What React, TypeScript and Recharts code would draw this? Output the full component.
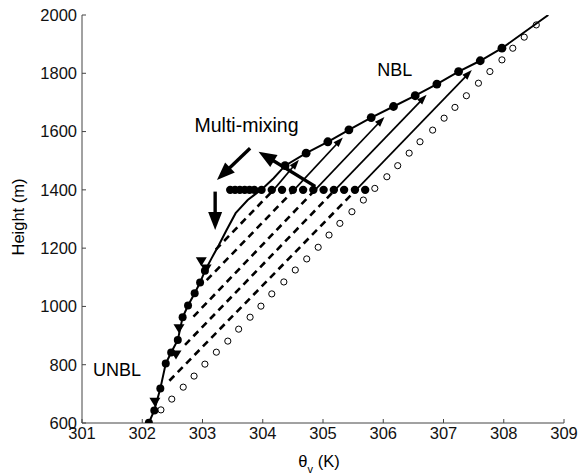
import React from "react";
import {
  ComposedChart,
  XAxis,
  YAxis,
  Scatter,
  ReferenceLine,
  ReferenceDot,
} from "recharts";

// Initial (pre-mixing) θv profile: open circles
const initialTheta = [
  302.31, 302.49, 302.68, 302.86, 303.04, 303.23, 303.42, 303.6, 303.79, 303.97,
  304.15, 304.35, 304.54, 304.73, 304.92, 305.1, 305.28, 305.48, 305.67, 305.86,
  306.06, 306.24, 306.43, 306.61, 306.82, 307.01, 307.19, 307.38, 307.58, 307.77,
  307.97, 308.15, 308.34, 308.54,
];
const initialHeight = [
  645, 682, 723, 761, 802, 843, 881, 922, 963, 1001, 1043, 1084, 1125, 1163, 1203,
  1245, 1285, 1325, 1365, 1405, 1445, 1483, 1526, 1565, 1605, 1646, 1683, 1723,
  1766, 1806, 1846, 1886, 1924, 1966,
];

// Unstable boundary layer samples (filled circles, lower part)
const unblTheta = [302.11, 302.2, 302.3, 302.39, 302.48, 302.59, 302.67, 302.76, 302.87, 302.96, 303.04];
const unblHeight = [601, 643, 718, 804, 842, 885, 963, 1003, 1045, 1082, 1122];

// Samples of the mixed layer top (row of filled circles)
const rowTheta = [
  303.46, 303.54, 303.62, 303.7, 303.78, 303.86, 303.98, 304.15, 304.32, 304.5,
  304.67, 304.84, 305.01, 305.18, 305.35, 305.53, 305.7,
];
const rowHeight = 1400;

// Neutral boundary layer samples (filled circles, upper part)
const nblTheta = [304.37, 304.72, 305.08, 305.43, 305.8, 306.17, 306.53, 306.89, 307.25, 307.61, 307.97];
const nblHeight = [1483, 1526, 1565, 1606, 1648, 1686, 1723, 1763, 1806, 1843, 1886];

// Final profile curve between the UNBL samples and the NBL samples
const bendTheta = [303.15, 303.27, 303.4, 303.55, 303.75, 304.0, 304.18];
const bendHeight = [1165, 1210, 1262, 1320, 1365, 1405, 1440];
const topTheta = 308.74;
const topHeight = 2000;

// Downward-triangle samples along the UNBL
const triTheta = [302.21, 302.56, 302.61, 302.98, 303.06];
const triHeight = [673, 835, 925, 1155, 1130];

// Mixing paths: dashed from base to the 1400 m level, then solid arrow to the NBL
const mixBaseTheta = [302.45, 302.71, 302.85, 303.07, 303.22];
const mixBaseHeight = [745, 868, 965, 1090, 1195];
const mixLevelTheta = [305.55, 305.2, 304.87, 304.52, 304.18];
const mixHeadTheta = [307.47, 306.72, 306.02, 305.33, 304.6];
const mixHeadHeight = [1811, 1726, 1650, 1580, 1503];

// Annotation arrows (tail -> tip)
const noteArrows = [
  { from: { x: 303.79, y: 1543 }, to: { x: 303.24, y: 1434 } },
  { from: { x: 303.21, y: 1394 }, to: { x: 303.21, y: 1262 } },
  { from: { x: 304.87, y: 1412 }, to: { x: 303.93, y: 1531 } },
];

const xTicks = [301, 302, 303, 304, 305, 306, 307, 308, 309];
const yTicks = [600, 800, 1000, 1200, 1400, 1600, 1800, 2000];

const FONT = '"Liberation Sans", Arial, Helvetica, sans-serif';
const INK = "#000";

const toPoints = (xs: number[], ys: number[]) => xs.map((x, i) => ({ x, y: ys[i] }));

const initialPts = toPoints(initialTheta, initialHeight);
const unblPts = toPoints(unblTheta, unblHeight);
const rowPts = rowTheta.map((x) => ({ x, y: rowHeight }));
const nblPts = toPoints(nblTheta, nblHeight);
const triPts = toPoints(triTheta, triHeight);
const profilePts = [
  ...unblPts,
  ...toPoints(bendTheta, bendHeight),
  ...nblPts,
  { x: topTheta, y: topHeight },
];

const openCircle = (p: any) => (
  <circle cx={p.cx} cy={p.cy} r={3.1} fill="#fff" stroke={INK} strokeWidth={1} />
);
const filledCircle = (r: number) => (p: any) => (
  <circle cx={p.cx} cy={p.cy} r={r} fill={INK} />
);
const downTriangle = (p: any) => (
  <polygon
    points={`${p.cx - 5.5},${p.cy - 4} ${p.cx + 5.5},${p.cy - 4} ${p.cx},${p.cy + 5}`}
    fill={INK}
  />
);
const noShape = () => <g />;

const arrowShape = (headLen: number, headWidth: number, strokeWidth: number) => (props: any) => {
  const x1 = Number(props.x1);
  const y1 = Number(props.y1);
  const x2 = Number(props.x2);
  const y2 = Number(props.y2);
  const dx = x2 - x1;
  const dy = y2 - y1;
  const len = Math.hypot(dx, dy) || 1;
  const ux = dx / len;
  const uy = dy / len;
  const bx = x2 - ux * headLen;
  const by = y2 - uy * headLen;
  const px = (-uy * headWidth) / 2;
  const py = (ux * headWidth) / 2;
  return (
    <g>
      <line x1={x1} y1={y1} x2={bx + ux} y2={by + uy} stroke={INK} strokeWidth={strokeWidth} />
      <polygon points={`${x2},${y2} ${bx + px},${by + py} ${bx - px},${by - py}`} fill={INK} />
    </g>
  );
};

const textShape = (value: string, size: number) => (p: any) => (
  <text
    x={p.cx}
    y={p.cy}
    textAnchor="middle"
    dominantBaseline="central"
    fontFamily={FONT}
    fontSize={size}
    fill={INK}
  >
    {value}
  </text>
);

const tickStyle = { fontSize: 16.5, fill: "#111", fontFamily: FONT };

export default function App() {
  return (
    <div style={{ position: "absolute", left: 0, top: 0 }}>
      <ComposedChart
        width={579}
        height={474}
        margin={{ top: 15, right: 15, bottom: 21, left: 0 }}
      >
        <XAxis
          type="number"
          dataKey="x"
          domain={[301, 309]}
          ticks={xTicks}
          interval={0}
          allowDataOverflow
          tickSize={-4}
          tickMargin={8}
          height={30}
          tick={tickStyle}
          axisLine={{ stroke: "#444", strokeWidth: 1 }}
          tickLine={{ stroke: "#444" }}
          label={{
            content: (props: any) => {
              const vb = props.viewBox || {};
              const cx = (vb.x ?? 82) + (vb.width ?? 482) / 2 - 4;
              return (
                <text x={cx} y={467} textAnchor="middle" fontFamily={FONT} fontSize={16.5} fill={INK}>
                  <tspan>θ</tspan>
                  <tspan dy={6} fontSize={11}>v</tspan>
                  <tspan dy={-6}> (K)</tspan>
                </text>
              );
            },
          }}
        />
        <YAxis
          type="number"
          dataKey="y"
          domain={[600, 2000]}
          ticks={yTicks}
          interval={0}
          allowDataOverflow
          width={82}
          tickSize={-4}
          tickMargin={9}
          tick={tickStyle}
          axisLine={{ stroke: "#444", strokeWidth: 1 }}
          tickLine={{ stroke: "#444" }}
          label={{
            content: (props: any) => {
              const vb = props.viewBox || {};
              const cy = (vb.y ?? 15) + (vb.height ?? 408) / 2 - 2;
              return (
                <text
                  x={18}
                  y={cy}
                  transform={`rotate(-90, 18, ${cy})`}
                  textAnchor="middle"
                  dominantBaseline="central"
                  fontFamily={FONT}
                  fontSize={16.5}
                  fill={INK}
                >
                  Height (m)
                </text>
              );
            },
          }}
        />

        {/* initial profile */}
        <Scatter data={initialPts} shape={openCircle} isAnimationActive={false} />

        {/* mixing paths: dashed below 1400 m */}
        {mixBaseTheta.map((x, i) => (
          <ReferenceLine
            key={`dash-${i}`}
            segment={[
              { x, y: mixBaseHeight[i] },
              { x: mixLevelTheta[i], y: rowHeight },
            ]}
            stroke={INK}
            strokeWidth={2.6}
            strokeDasharray="7 5"
            ifOverflow="visible"
          />
        ))}
        {/* mixing paths: solid arrows above 1400 m */}
        {mixLevelTheta.map((x, i) => (
          <ReferenceLine
            key={`arrow-${i}`}
            segment={[
              { x, y: rowHeight },
              { x: mixHeadTheta[i], y: mixHeadHeight[i] },
            ]}
            ifOverflow="visible"
            shape={arrowShape(10, 7, 1.7)}
          />
        ))}

        {/* final profile */}
        <Scatter
          data={profilePts}
          line={{ stroke: INK, strokeWidth: 2 }}
          shape={noShape}
          isAnimationActive={false}
        />
        <Scatter data={unblPts} shape={filledCircle(4)} isAnimationActive={false} />
        <Scatter data={rowPts} shape={filledCircle(4.2)} isAnimationActive={false} />
        <Scatter data={nblPts} shape={filledCircle(4.4)} isAnimationActive={false} />
        <Scatter data={triPts} shape={downTriangle} isAnimationActive={false} />

        {/* annotation arrows */}
        {noteArrows.map((a, i) => (
          <ReferenceLine
            key={`note-${i}`}
            segment={[a.from, a.to]}
            ifOverflow="visible"
            shape={arrowShape(18, 14, 3.4)}
          />
        ))}

        <ReferenceDot x={303.73} y={1623} r={0} ifOverflow="visible" shape={textShape("Multi-mixing", 19.5)} />
        <ReferenceDot x={306.19} y={1811} r={0} ifOverflow="visible" shape={textShape("NBL", 18)} />
        <ReferenceDot x={301.58} y={782} r={0} ifOverflow="visible" shape={textShape("UNBL", 18)} />
      </ComposedChart>
    </div>
  );
}
